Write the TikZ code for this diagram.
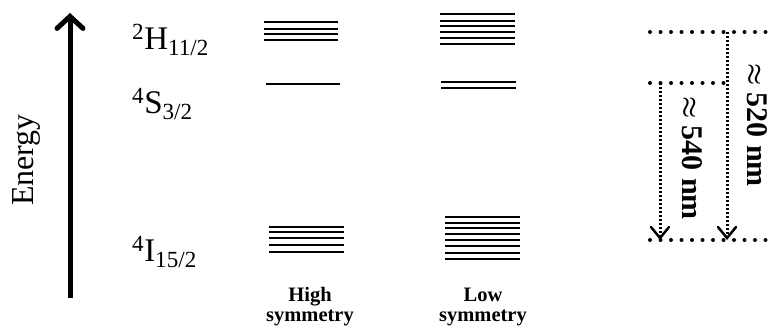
\documentclass[tikz,border=0pt]{standalone}
\usepackage{fontspec}
\setmainfont{Liberation Serif}
\usetikzlibrary{arrows.meta}
\tikzstyle{every node}=[inner sep=0pt]
\tikzstyle{level}=[line width=2pt]
\tikzstyle{term}=[anchor=base west,font=\fontsize{33}{33}\selectfont]
\tikzstyle{sym}=[font=\fontsize{20.5}{20}\selectfont\bfseries,align=center]
\tikzstyle{edge}=[line width=4pt,line cap=round,dash pattern=on 0pt off 10.5pt]
\tikzstyle{trans}=[line width=3pt,dash pattern=on 2pt off 2pt,-{Straight Barb[length=11pt,width=18pt,line width=2.5pt,line cap=round]}]
\tikzstyle{gap}=[font=\fontsize{30}{30}\selectfont\bfseries\boldmath,rotate=-90]

\begin{document}
\begin{tikzpicture}[x=1pt,y=-1pt]
	\useasboundingbox (0,0) rectangle (773,333);
	\coordinate (e0) at (70,298);
	\coordinate (e1) at (70,13);
	\draw[line width=5pt,-{Straight Barb[length=12pt,width=26pt,line cap=round]}] (e0) -- (e1);
	\node (energy) [rotate=90,font=\fontsize{32}{32}\selectfont] at (26,160) {Energy};
	\node (h) [term] at (132,49) {\textsuperscript{2}H\textsubscript{11/2}};
	\node (s) [term] at (132,113) {\textsuperscript{4}S\textsubscript{3/2}};
	\node (i) [term] at (132,261) {\textsuperscript{4}I\textsubscript{15/2}};
	\foreach \y in {22,29,34,40} \draw[level] (264,\y) -- (338,\y);
	\draw[level] (266,84) -- (340,84);
	\foreach \y in {227,232,238,245,252} \draw[level] (269,\y) -- (344,\y);
	\foreach \y in {14,21,26,32,38,44} \draw[level] (440,\y) -- (515,\y);
	\foreach \y in {82,88} \draw[level] (441,\y) -- (516,\y);
	\foreach \y in {217,223,228,234,240,246,253,259} \draw[level] (445,\y) -- (520,\y);
	\node (high) [sym] at (310,307) {High\\symmetry};
	\node (low) [sym] at (483,307) {Low\\symmetry};
	\coordinate (a0) at (650,32);
	\coordinate (a1) at (727,32);
	\coordinate (a2) at (773,32);
	\coordinate (b0) at (650,83);
	\coordinate (b1) at (660,83);
	\coordinate (b2) at (727,83);
	\coordinate (c0) at (650,240);
	\coordinate (c1) at (660,240);
	\coordinate (c2) at (727,240);
	\coordinate (c3) at (773,240);
	\draw[edge] (a0) -- (a2);
	\draw[edge] (b0) -- (b2);
	\draw[edge] (c0) -- (c3);
	\draw[trans] (b1) -- (c1);
	\draw[trans] (a1) -- (c2);
	\node (g540) [gap] at (692,158) {$\approx$ 540 nm};
	\node (g520) [gap] at (757,125) {$\approx$ 520 nm};
\end{tikzpicture}
\end{document}
